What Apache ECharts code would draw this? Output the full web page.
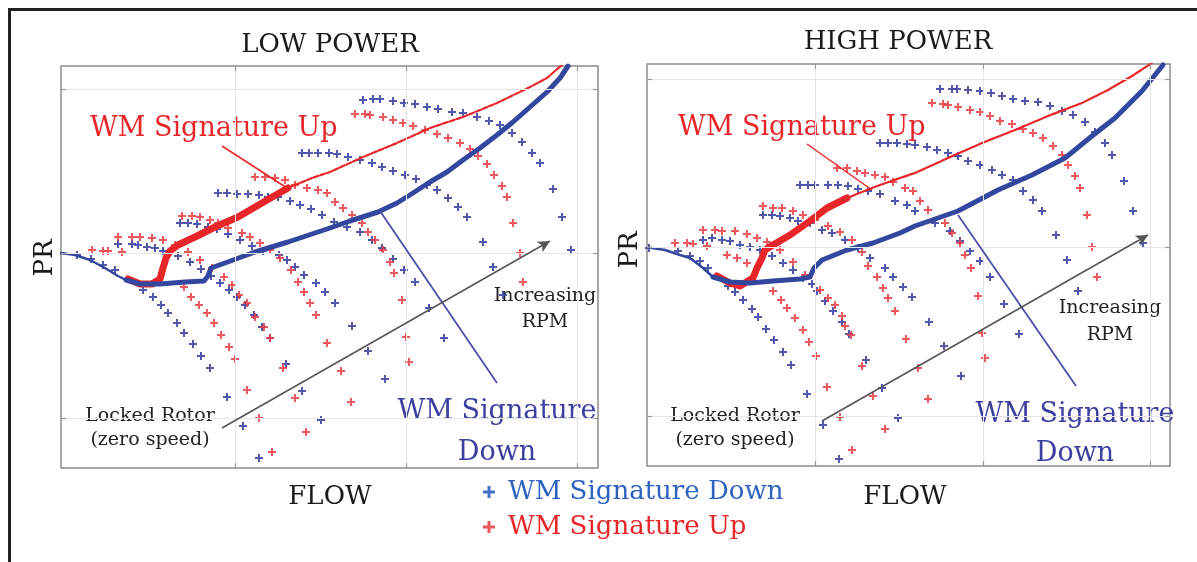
<!DOCTYPE html>
<html>
<head>
<meta charset="utf-8">
<title>WM signature - low and high power</title>
<script src="https://cdn.jsdelivr.net/npm/echarts@6/dist/echarts.min.js"></script>
<style>
  html, body { margin: 0; padding: 0; background: #fff; }
  #chart { width: 1197px; height: 562px; }
</style>
</head>
<body>
<div id="chart"></div>
<script>
// values are [flow, PR] in plain plot units, the original has no tick labels

// ---- LOW POWER ----
const lowGridX = [17.4, 34.5, 51.6];
const lowGridY = [5.0, 21.5, 37.9];

// blue + (WM Signature Down), one row per speed line
const lowDownPts = [
  [1.6,21.3],[3.0,20.9],[4.2,20.3],[5.4,19.8],[8.2,17.8],[9.2,17.1],[10.0,16.3],[10.7,15.5],[11.6,14.5],[12.3,13.5],[13.2,12.4],[14.0,11.2],[14.9,10.0],[16.6,7.1],[18.2,4.2],[19.8,1.0],
  [5.7,22.4],[7.1,22.4],[7.7,22.3],[8.6,22.1],[9.4,22.0],[10.2,21.7],[11.7,21.2],[12.9,20.6],[14.0,19.9],[15.0,19.2],[15.9,18.5],[16.8,17.8],[17.6,17.1],[18.4,16.3],[19.3,15.3],[20.1,14.1],[20.9,13.0],[22.5,10.4],[24.1,7.7],[26.0,4.8],
  [11.9,24.5],[12.7,24.5],[13.6,24.4],[14.7,24.1],[15.6,23.9],[16.7,23.4],[17.9,22.8],[19.1,22.2],[20.2,21.7],[21.8,21.3],[22.6,20.8],[23.4,20.1],[24.3,19.3],[25.5,18.5],[26.4,17.6],[27.4,16.5],[29.1,14.2],[30.7,11.7],[32.4,8.9],
  [15.7,27.5],[16.6,27.5],[17.6,27.4],[18.7,27.4],[19.8,27.3],[20.7,27.1],[21.7,27.1],[22.9,26.7],[23.9,26.3],[25.0,25.9],[26.1,25.3],[27.3,24.6],[28.6,24.1],[29.9,23.6],[31.1,22.8],[32.1,22.0],[33.2,20.9],[34.3,19.8],[35.4,18.6],[36.8,16.0],[38.3,13.0],
  [24.1,31.5],[24.8,31.5],[25.7,31.5],[26.8,31.5],[27.6,31.4],[28.7,31.1],[29.9,30.8],[31.1,30.5],[32.1,30.1],[33.2,29.7],[34.4,29.3],[35.5,28.9],[36.6,28.3],[37.6,27.8],[38.7,27.0],[39.7,26.1],[40.6,25.1],[42.2,22.6],[43.2,20.1],[44.2,17.3],
  [30.2,36.8],[31.2,36.9],[31.9,36.9],[33.2,36.7],[34.3,36.5],[35.4,36.4],[36.6,36.1],[37.7,35.9],[39.1,35.6],[40.2,35.5],[41.6,35.1],[42.8,34.7],[43.9,34.3],[45.1,33.5],[46.1,32.6],[47.1,31.5],[47.9,30.5],[49.2,27.9],[50.1,25.1],[51.0,21.8]
];

// red + (WM Signature Up)
const lowUpPts = [
  [3.1,21.8],[4.2,21.7],[4.7,21.7],[6.1,21.6],[12.3,18.1],[13.0,17.1],[13.8,16.3],[14.6,15.5],[15.3,14.5],[16.0,13.3],[16.8,12.1],[17.4,10.9],[18.6,7.8],[19.8,5.0],[21.1,1.6],
  [5.7,23.1],[7.1,23.1],[7.9,23.1],[9.1,23.0],[10.2,22.8],[11.4,22.3],[12.7,21.6],[13.9,20.8],[15.1,20.0],[16.3,19.1],[17.1,18.3],[17.8,17.3],[18.6,16.5],[19.4,15.1],[20.3,14.1],[20.9,13.0],[22.2,10.0],[23.4,7.0],[24.5,3.6],
  [12.1,25.2],[13.1,25.2],[13.9,25.1],[14.9,24.8],[15.7,24.5],[16.7,24.0],[18.1,23.5],[18.9,23.1],[19.9,22.5],[20.9,21.8],[21.9,21.0],[23.0,19.8],[23.7,18.6],[24.3,17.6],[24.9,16.5],[25.5,15.3],[26.6,12.5],[28.0,9.7],[29.0,6.6],
  [19.4,29.1],[20.4,29.1],[21.4,29.0],[22.4,28.8],[23.4,28.3],[24.6,28.0],[25.7,27.8],[26.6,27.5],[27.4,26.6],[28.2,26.0],[29.1,25.3],[30.1,24.5],[30.7,23.6],[31.4,22.8],[32.2,21.8],[32.9,20.6],[33.3,19.5],[34.1,16.8],[34.5,13.1],[34.8,10.6],
  [29.4,35.4],[30.4,35.4],[30.9,35.3],[32.2,35.1],[33.2,34.8],[34.2,34.5],[35.2,34.2],[36.4,33.8],[37.6,33.4],[38.7,33.0],[39.9,32.5],[40.9,31.9],[41.7,31.2],[42.6,30.4],[43.3,29.3],[44.1,28.2],[44.6,27.1],[45.2,24.5],[45.9,21.5],[46.2,18.6]
];

const lowDownStart = [[0,21.5],[1.4,21.3],[2.9,20.8],[4.4,20.0],[5.7,19.2],[6.5,18.8]];
const lowDownCurve = [[6.5,18.8],[7.9,18.4],[9.9,18.4],[12.4,18.6],[14.3,18.7],[14.7,19.2],[15.0,20.0],[16.4,20.5],[19.4,21.6],[22.7,22.6],[26.9,24.0],[28.9,24.7],[31.7,25.6],[33.6,26.5],[35.2,27.5],[36.9,28.6],[38.6,29.6],[40.2,30.8],[41.9,32.0],[43.6,33.3],[45.2,34.6],[46.9,36.1],[48.6,37.6],[49.9,39.0],[50.7,40.2]];
const lowUpThick = [[6.7,18.9],[7.9,18.4],[9.1,18.4],[9.9,18.9],[10.2,20.0],[10.5,21.0],[10.9,21.7],[11.7,22.3],[13.4,23.1],[15.4,24.1],[17.7,25.1],[20.1,26.5],[22.7,28.0]];
const lowUpThin = [[22.7,28.0],[25.1,29.0],[26.9,29.6],[30.2,31.1],[33.6,32.5],[36.9,34.0],[40.2,35.1],[43.6,36.5],[46.9,38.1],[48.6,39.0],[50.1,40.3]];

// ---- HIGH POWER ----
const highGridX = [16.8, 33.6, 50.3];
const highGridY = [5.0, 21.9, 38.7];

const highDownPts = [
  [0.2,21.8],
  [3.1,21.5],[4.3,21.0],[5.3,20.5],[6.1,19.8],[8.1,18.0],[8.8,17.4],[9.6,16.6],[10.5,15.7],[11.1,14.9],[11.9,13.7],[12.7,12.6],[13.6,11.4],[14.4,10.1],[16.0,7.2],[17.6,4.1],[19.2,0.7],
  [5.6,22.6],[6.5,22.8],[7.5,22.6],[8.3,22.5],[9.3,22.1],[10.3,21.9],[11.3,21.6],[12.5,21.0],[13.6,20.3],[14.6,19.6],[15.6,18.8],[16.5,18.2],[17.0,17.5],[17.8,16.5],[18.6,15.5],[19.5,14.4],[20.2,13.2],[21.9,10.6],[23.5,7.8],[25.1,4.8],
  [11.6,25.1],[12.5,25.1],[13.3,25.0],[14.3,24.8],[15.1,24.5],[16.3,24.3],[17.5,23.6],[18.5,23.3],[19.8,22.6],[21.1,21.8],[22.3,20.8],[23.8,19.8],[24.6,18.9],[25.6,17.9],[26.5,16.9],[28.2,14.4],[29.7,12.0],[31.4,9.0],
  [15.3,28.1],[16.1,28.1],[16.8,28.1],[18.1,28.1],[19.1,28.1],[20.1,28.0],[21.1,27.7],[22.1,27.5],[23.3,27.2],[24.8,26.5],[26.0,26.1],[26.8,25.5],[28.8,24.3],[30.3,23.5],[31.3,22.5],[32.3,21.5],[33.3,20.5],[34.3,18.9],[35.7,16.2],[37.2,13.2],
  [23.3,32.3],[24.1,32.3],[25.0,32.3],[26.0,32.2],[26.8,32.1],[28.0,31.9],[29.0,31.6],[30.1,31.3],[31.1,31.0],[32.1,30.5],[33.3,30.1],[34.5,29.6],[35.5,29.1],[36.6,28.6],[37.6,27.5],[38.6,26.6],[39.5,25.5],[40.9,23.1],[42.0,20.6],[43.1,17.5],
  [29.3,37.7],[30.5,37.7],[31.0,37.7],[32.1,37.6],[33.3,37.5],[34.4,37.3],[35.5,37.0],[36.6,36.7],[37.8,36.5],[39.1,36.4],[40.3,36.0],[41.5,35.5],[42.6,35.1],[43.8,34.4],[44.8,33.4],[45.8,32.3],[46.5,31.1],[47.7,28.5],[48.6,25.5],[49.6,22.3]
];

const highUpPts = [
  [2.8,22.3],[4.0,22.3],[4.6,22.2],[6.0,22.0],[8.0,21.1],[9.0,20.8],[10.0,20.3],[12.6,17.5],[13.4,16.6],[14.0,15.8],[14.8,14.8],[15.6,13.6],[16.2,12.4],[16.9,11.0],[18.0,7.9],[19.3,4.9],[20.5,1.6],
  [5.6,23.6],[6.8,23.6],[7.5,23.5],[8.8,23.5],[10.0,23.2],[11.0,22.8],[12.0,22.4],[13.3,21.6],[14.6,20.4],[15.8,19.1],[17.3,17.6],[18.1,16.8],[18.8,16.1],[19.5,15.0],[19.8,14.0],[20.4,13.1],[21.5,10.0],[22.6,7.0],[23.8,3.7],
  [11.6,26.0],[12.6,25.8],[13.5,25.8],[14.6,25.5],[15.6,25.1],[16.8,24.6],[18.1,24.0],[19.3,23.4],[20.5,22.6],[21.5,21.4],[22.1,20.0],[23.0,18.9],[23.6,17.8],[24.1,16.8],[24.8,15.5],[25.9,12.7],[27.1,9.8],[28.1,6.7],
  [19.0,29.8],[20.0,29.8],[21.0,29.5],[21.8,29.3],[22.8,29.1],[23.8,28.9],[24.6,28.4],[25.8,27.8],[26.6,27.5],[27.3,26.5],[28.1,25.6],[29.8,24.3],[30.5,23.3],[31.3,22.3],[31.8,21.1],[32.4,19.8],[33.1,17.0],[33.5,13.3],[33.8,10.8],
  [28.5,36.3],[29.6,36.2],[30.1,36.1],[31.1,35.9],[32.3,35.6],[33.3,35.4],[34.3,35.0],[35.3,34.5],[36.5,34.2],[37.6,33.7],[38.6,33.3],[39.6,32.8],[40.6,32.0],[41.5,31.1],[42.1,30.1],[42.8,29.0],[43.3,27.8],[44.0,25.1],[44.5,21.9],[45.0,18.9]
];

const highDownStart = [[0.5,21.8],[1.8,21.6],[3.3,21.1],[4.3,20.8],[5.6,19.8],[6.6,18.9]];
const highDownCurve = [[6.6,18.9],[8.3,18.4],[10.3,18.3],[12.6,18.5],[15.3,18.7],[16.3,18.9],[16.7,19.8],[17.5,20.6],[20.0,21.6],[22.6,22.3],[25.3,23.3],[26.8,24.0],[31.1,25.5],[35.1,27.6],[38.5,29.1],[41.8,30.8],[44.5,33.0],[46.8,34.8],[49.5,37.5],[51.6,40.1]];
const highUpThick = [[7.0,19.0],[8.3,18.3],[9.3,18.0],[10.6,18.8],[11.0,19.8],[11.5,20.8],[11.8,21.6],[12.6,22.1],[14.3,23.1],[16.3,24.5],[18.0,25.8],[20.0,26.8]];
const highUpThin = [[20.0,26.8],[22.0,27.6],[23.3,28.1],[25.3,28.8],[26.8,29.3],[30.1,30.8],[33.5,32.3],[36.8,33.6],[40.1,35.0],[43.5,36.3],[46.1,37.6],[48.5,39.0],[50.5,40.3]];

const SERIF = '"DejaVu Serif", "Liberation Serif", serif';
const PLUS = 'path://M3,0H5V3H8V5H5V8H3V5H0V3H3Z';
const BLUE = '#3d45a3';
const RED = '#e8262a';

const panels = [
  {
    grid: { left: 61, top: 66, width: 537, height: 402 },
    xMax: 53.7, yMax: 40.2, gridX: lowGridX, gridY: lowGridY,
    down: lowDownPts, up: lowUpPts,
    downStart: lowDownStart, downCurve: lowDownCurve, upThick: lowUpThick, upThin: lowUpThin,
    upThinDash: [5, 2],
    upPointer: [[16.1, 32.2], [22.6, 28.0]],
    downPointer: [[31.9, 25.7], [43.6, 8.5]],
    arrow: [[16.1, 4.0], [48.9, 22.7]]
  },
  {
    grid: { left: 647, top: 64, width: 523, height: 402 },
    xMax: 52.3, yMax: 40.2, gridX: highGridX, gridY: highGridY,
    down: highDownPts, up: highUpPts,
    downStart: highDownStart, downCurve: highDownCurve, upThick: highUpThick, upThin: highUpThin,
    upThinDash: [7, 1.5],
    upPointer: [[16.0, 32.2], [22.5, 27.6]],
    downPointer: [[31.1, 25.1], [42.9, 8.0]],
    arrow: [[17.5, 4.5], [50.1, 23.1]]
  }
];

function panelSeries(i, p) {
  const ax = { xAxisIndex: i, yAxisIndex: i };
  const tl = 0.5;
  const ticks = [];
  p.gridX.forEach(v => {
    ticks.push([{ coord: [v, 0] }, { coord: [v, tl] }]);
    ticks.push([{ coord: [v, p.yMax] }, { coord: [v, p.yMax - tl] }]);
  });
  p.gridY.forEach(v => {
    ticks.push([{ coord: [0, v] }, { coord: [tl, v] }]);
    ticks.push([{ coord: [p.xMax, v] }, { coord: [p.xMax - tl, v] }]);
  });
  const curve = (data, color, width, z, dash) => ({
    type: 'line', ...ax, data, symbol: 'none', silent: true, z,
    lineStyle: { color, width, cap: 'round', join: 'round', type: dash || 'solid' }
  });
  return [
    {
      type: 'scatter', ...ax, data: [], silent: true, z: 0,
      markLine: {
        silent: true, symbol: 'none', label: { show: false },
        lineStyle: { color: '#e6e6e6', width: 1, type: 'solid' },
        data: p.gridX.map(v => ({ xAxis: v })).concat(p.gridY.map(v => ({ yAxis: v })))
      }
    },
    {
      type: 'scatter', ...ax, data: [], silent: true, z: 1,
      markLine: {
        silent: true, symbol: 'none', label: { show: false },
        lineStyle: { color: '#9a9a9a', width: 1.2, type: 'solid' },
        data: ticks
      }
    },
    {
      name: 'WM Signature Down', type: 'scatter', ...ax, data: p.down,
      symbol: PLUS, symbolSize: 8, itemStyle: { color: BLUE, opacity: 0.9 }, z: 2
    },
    {
      name: 'WM Signature Up', type: 'scatter', ...ax, data: p.up,
      symbol: PLUS, symbolSize: 8, itemStyle: { color: '#ea3a42', opacity: 0.85 }, z: 2
    },
    curve(p.upThin, RED, 2.2, 3, p.upThinDash),
    curve(p.upThick, RED, 7, 3),
    curve(p.downStart, '#34479e', 2.5, 4),
    curve(p.downCurve, '#34479e', 5, 4),
    {
      type: 'scatter', ...ax, data: [], silent: true, z: 5,
      markLine: {
        silent: true, symbol: 'none', label: { show: false },
        data: [
          [{ coord: p.upPointer[0], lineStyle: { color: RED, width: 1.5, type: 'solid' } },
           { coord: p.upPointer[1], lineStyle: { color: RED, width: 1.5, type: 'solid' } }],
          [{ coord: p.downPointer[0], lineStyle: { color: '#4b4ea8', width: 1.8, type: 'solid' } },
           { coord: p.downPointer[1], lineStyle: { color: '#4b4ea8', width: 1.8, type: 'solid' } }],
          [{ coord: p.arrow[0], symbol: 'none', lineStyle: { color: '#555', width: 1.5, type: 'solid' } },
           { coord: p.arrow[1], symbol: 'arrow', symbolSize: [9, 12], lineStyle: { color: '#555', width: 1.5, type: 'solid' } }]
        ]
      }
    }
  ];
}

function txt(text, x, y, size, color, opts) {
  return Object.assign({
    type: 'text', x, y, silent: true,
    style: Object.assign({
      text, font: size + 'px ' + SERIF, fill: color,
      align: 'center', verticalAlign: 'middle'
    }, (opts && opts.style) || {})
  }, (opts && opts.el) || {});
}

const graphics = [
  { type: 'line', silent: true, shape: { x1: 8, y1: 9.5, x2: 1197, y2: 9.5 }, style: { stroke: '#222', lineWidth: 3 } },
  { type: 'line', silent: true, shape: { x1: 9.5, y1: 8, x2: 9.5, y2: 562 }, style: { stroke: '#222', lineWidth: 3 } },

  txt('LOW POWER', 330, 45, 26, '#1a1a1a'),
  txt('PR', 45, 258, 26, '#1a1a1a', { el: { rotation: Math.PI / 2 } }),
  txt('FLOW', 330, 497, 26, '#1a1a1a'),
  txt('WM Signature Up', 90, 129, 27, RED, { style: { align: 'left' } }),
  txt('Increasing\nRPM', 545, 309, 19, '#222', { style: { lineHeight: 26 } }),
  txt('Locked Rotor\n(zero speed)', 150, 428, 19, '#222', { style: { lineHeight: 24 } }),
  txt('WM Signature\nDown', 497, 432, 27, '#3c3fa0', { style: { lineHeight: 41 } }),

  txt('HIGH POWER', 898, 42, 26, '#1a1a1a'),
  txt('PR', 630, 250, 26, '#1a1a1a', { el: { rotation: Math.PI / 2 } }),
  txt('FLOW', 905, 497, 26, '#1a1a1a'),
  txt('WM Signature Up', 678, 128, 27, RED, { style: { align: 'left' } }),
  txt('Increasing\nRPM', 1110, 322, 19, '#222', { style: { lineHeight: 27 } }),
  txt('Locked Rotor\n(zero speed)', 735, 428, 19, '#222', { style: { lineHeight: 24 } }),
  txt('WM Signature\nDown', 1075, 434, 27, '#3c3fa0', { style: { lineHeight: 39 } })
];

const chart = echarts.init(document.getElementById('chart'), null, { renderer: 'canvas' });

const hiddenAxis = (max) => ({
  type: 'value', min: 0, max,
  axisLine: { show: false }, axisTick: { show: false },
  axisLabel: { show: false }, splitLine: { show: false }
});

chart.setOption({
  animation: false,
  backgroundColor: '#fff',
  grid: panels.map(p => Object.assign({ show: true, borderColor: '#8c8c8c', borderWidth: 1.5, backgroundColor: 'transparent' }, p.grid)),
  xAxis: panels.map((p, i) => Object.assign({ gridIndex: i }, hiddenAxis(p.xMax))),
  yAxis: panels.map((p, i) => Object.assign({ gridIndex: i }, hiddenAxis(p.yMax))),
  legend: {
    orient: 'vertical', left: 478, top: 474, itemGap: 9,
    itemWidth: 28, itemHeight: 12, selectedMode: false, symbolKeepAspect: true,
    textStyle: { fontSize: 26, fontFamily: SERIF },
    data: [
      { name: 'WM Signature Down', textStyle: { color: '#2e62c0' }, itemStyle: { color: '#2e62c0' } },
      { name: 'WM Signature Up', textStyle: { color: RED } }
    ]
  },
  series: panels.flatMap((p, i) => panelSeries(i, p)),
  graphic: graphics
});
</script>
</body>
</html>
